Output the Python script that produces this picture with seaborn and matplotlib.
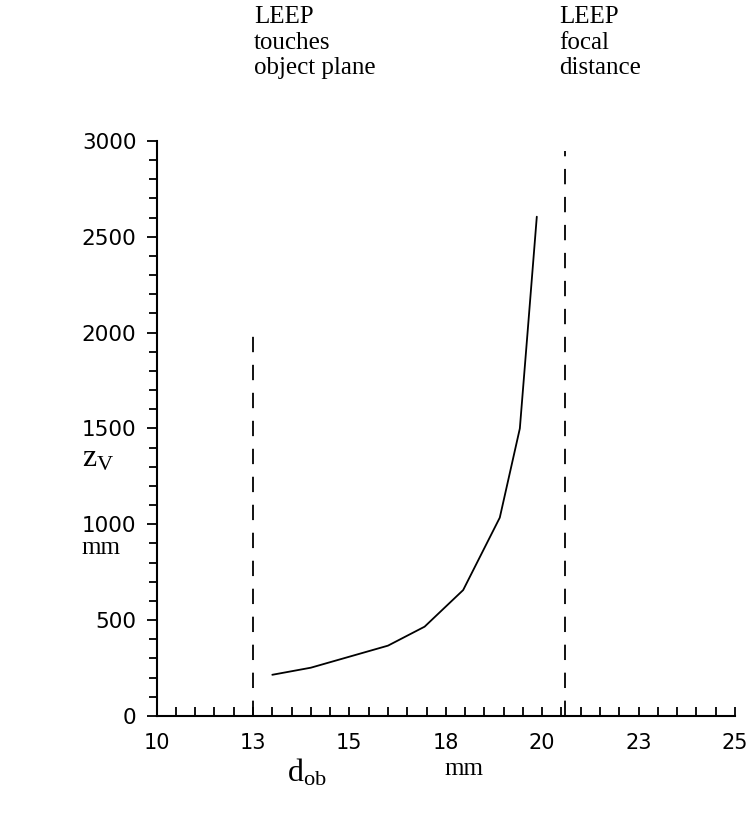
import matplotlib
matplotlib.use("Agg")
import matplotlib.pyplot as plt
import seaborn as sns
import numpy as np
import pandas as pd
from matplotlib.ticker import MultipleLocator, FixedLocator

# ---- data ----
d_ob = [13.0, 14.0, 16.0, 16.95, 17.95, 18.9, 19.42, 19.62, 19.86]
z_v = [215, 252, 367, 466, 657, 1035, 1500, 2000, 2605]

limit_x = [12.5, 20.6]          # LEEP touches object plane / LEEP focal distance
limit_top = [2000, 2950]

xtick_vals = [10, 12.5, 15, 17.5, 20, 22.5, 25]
xtick_labels = ["10", "13", "15", "18", "20", "23", "25"]
ytick_vals = [0, 500, 1000, 1500, 2000, 2500, 3000]

sns.set_style("ticks")
plt.rcParams['font.family'] = ['DejaVu Sans']
plt.rcParams['mathtext.fontset'] = 'custom'
plt.rcParams['mathtext.rm'] = 'Liberation Serif'

fig = plt.figure(figsize=(7.48, 8.14), dpi=100)
ax = fig.add_axes([0.2094, 0.1204, 0.9826 - 0.2094, 0.8268 - 0.1204])

df = pd.DataFrame({"d_ob": d_ob, "z_v": z_v})
sns.lineplot(data=df, x="d_ob", y="z_v", ax=ax, color="black", linewidth=1.3,
             sort=False, estimator=None)

for xv, top in zip(limit_x, limit_top):
    ax.plot([xv, xv], [0, top], color="black", linewidth=1.3,
            linestyle=(0, (8.5, 7)))

ax.set_xlim(10, 25)
ax.set_ylim(0, 3000)
ax.set_xlabel("")
ax.set_ylabel("")
sns.despine(ax=ax)
for s in ("left", "bottom"):
    ax.spines[s].set_linewidth(1.5)
    ax.spines[s].set_color("black")

ax.xaxis.set_major_locator(FixedLocator(xtick_vals))
ax.set_xticklabels(xtick_labels)
ax.xaxis.set_minor_locator(MultipleLocator(0.5))
ax.yaxis.set_major_locator(FixedLocator(ytick_vals))
ax.yaxis.set_minor_locator(MultipleLocator(100))

ax.tick_params(axis="x", which="both", direction="in", length=6.5, width=1.3,
               colors="black", labelsize=15, pad=12)
ax.tick_params(axis="y", which="major", direction="out", length=7, width=1.3,
               colors="black", labelsize=15.5, pad=7.5)
ax.tick_params(axis="y", which="minor", direction="out", length=5.5, width=1.3,
               colors="black")

serif = ['Liberation Serif', 'DejaVu Serif']
txt_kw = dict(family=serif, fontsize=18, color="black", va="top", ha="left",
              linespacing=1.22)
fig.text(254 / 748, 1 - 6 / 814, "LEEP\ntouches\nobject plane", **txt_kw)
fig.text(559 / 748, 1 - 6 / 814, "LEEP\nfocal\ndistance", **txt_kw)

fig.text(82 / 748, 1 - 458 / 814, r"$\mathrm{z_V}$", fontsize=23,
         ha="left", va="center", color="black")
fig.text(81 / 748, 1 - 548 / 814, "mm", family=serif, fontsize=18,
         ha="left", va="center", color="black")
fig.text(287 / 748, 1 - 773 / 814, r"$\mathrm{d_{ob}}$", fontsize=23,
         ha="left", va="center", color="black")
fig.text(444 / 748, 1 - 769 / 814, "mm", family=serif, fontsize=18,
         ha="left", va="center", color="black")

fig.savefig("out.png", dpi=100, facecolor="white")
